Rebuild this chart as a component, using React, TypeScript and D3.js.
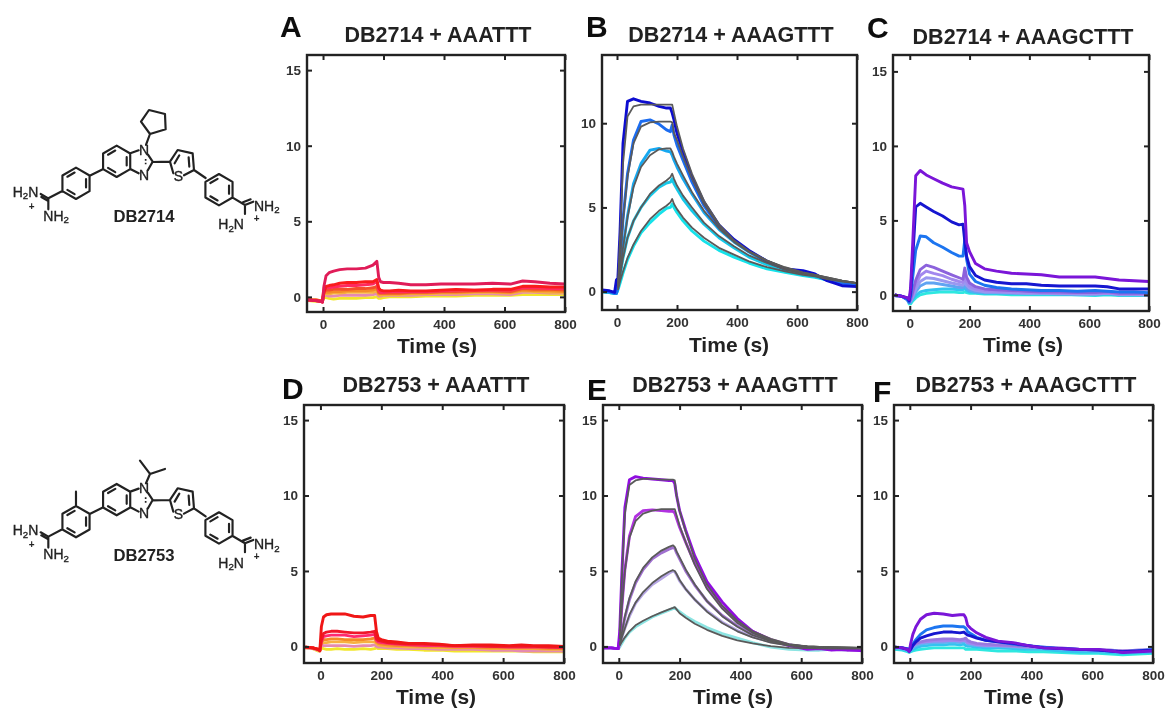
import React, { useRef, useEffect } from "react";
import * as d3 from "d3";

// sampling times (s) shared by all traces
const times = [-50, -25, -8, -2, 3, 10, 20, 35, 55, 80, 110, 140, 165, 178, 184, 190, 200, 220, 250, 290, 340, 390, 440, 500, 560, 620, 660, 700, 750, 800];

const xTicks = [0, 200, 400, 600, 800];
const yTicks = [0, 5, 10, 15];

const warmColors = ["#f2e62a", "#e58ab0", "#f7b040", "#f58a28", "#f4502a", "#ff2a60", "#fa1a1a", "#e01c58"];
const coolColors = ["#2ee8e0", "#30c4f0", "#60a4f2", "#9a98f0", "#a288ee", "#8c62dc", "#1c74f0", "#1414d0", "#7a12d8"];
const blueColors = ["#12e2ea", "#18c8e8", "#18a8f0", "#1a6cf0", "#1010d0"];
const purpleColors = ["#8ce4e2", "#b6a6e4", "#a070d0", "#b030e0", "#9010e0"];

const traceA = [
  [-.25, -.3, -.3, -.3, 0, -.05, -.1, -.15, -.1, -.1, -.1, -.05, -.05, 0, -.1, -.1, -.05, 0, 0, 0, .05, .05, .05, .1, .1, .1, .15, .15, .15, .15],
  [-.2, -.25, -.3, -.3, .2, .1, .05, .05, .1, .1, .1, .1, .15, .2, .05, .05, .1, .1, .1, .1, .15, .15, .15, .2, .2, .15, .3, .3, .25, .25],
  [-.2, -.2, -.25, -.25, .6, .2, .2, .25, .25, .3, .3, .3, .3, .4, .15, .1, .15, .15, .15, .2, .2, .25, .25, .3, .3, .25, .4, .35, .3, .3],
  [-.2, -.2, -.25, -.25, .4, .3, .3, .35, .35, .4, .4, .4, .45, .55, .2, .2, .2, .2, .2, .25, .25, .3, .3, .35, .35, .3, .45, .4, .4, .35],
  [-.2, -.2, -.25, -.3, .3, .45, .45, .5, .5, .5, .55, .55, .6, .7, .3, .25, .25, .25, .25, .3, .3, .35, .35, .4, .4, .35, .55, .5, .5, .45],
  [-.2, -.25, -.3, -.3, .3, .6, .6, .65, .7, .75, .75, .8, .85, 1, .45, .3, .3, .35, .35, .35, .35, .4, .45, .45, .45, .45, .6, .6, .55, .55],
  [-.2, -.25, -.3, -.35, .3, .7, .75, .8, .9, .95, .95, 1, 1, 1.15, .6, .45, .4, .4, .45, .4, .4, .45, .5, .45, .5, .5, .7, .7, .65, .65],
  [-.2, -.25, -.3, -.35, .7, 1.4, 1.6, 1.7, 1.8, 1.85, 1.85, 1.9, 2.1, 2.35, 1.3, 1, .95, .95, .9, .8, .8, .85, .85, .85, .9, .85, 1.05, 1, .9, .85],
];

const traceB = [
  [0, -.05, -.1, -.1, .1, .5, 1.1, 1.9, 2.7, 3.5, 4.1, 4.6, 4.95, 5, 5.2, 5, 4.7, 4.2, 3.6, 3, 2.45, 2.05, 1.7, 1.35, 1.15, .95, .85, .7, .55, .45],
  [0, -.05, -.1, -.1, .2, .9, 2, 3.2, 4.2, 5, 5.7, 6.2, 6.45, 6.5, 6.7, 6.4, 6.1, 5.5, 4.8, 4, 3.2, 2.6, 2.05, 1.6, 1.25, 1, .9, .7, .5, .45],
  [0, -.05, -.1, -.1, .2, 1.1, 2.6, 4.5, 6.4, 7.6, 8.4, 8.5, 8.35, 8.3, 8.1, 7.8, 7.4, 6.7, 5.8, 4.7, 3.7, 2.95, 2.35, 1.75, 1.35, 1.1, .95, .7, .5, .45],
  [.05, 0, -.1, -.1, .3, 1.8, 4.3, 7, 9, 10.1, 10.2, 9.95, 9.6, 9.5, 9.9, 9.3, 8.7, 7.8, 6.5, 5.1, 3.85, 3.05, 2.4, 1.8, 1.35, 1.2, 1, .7, .45, .4],
  [.1, .05, -.05, .7, .8, 3.5, 8.8, 11.3, 11.45, 11.3, 11.2, 11, 10.9, 10.9, 10.6, 10.2, 9.4, 8.3, 6.8, 5.3, 3.95, 3.1, 2.45, 1.8, 1.35, 1.25, 1.05, .65, .35, .3],
];

const fitB = [
  [null, null, null, null, .1, .6, 1.2, 2, 2.8, 3.6, 4.3, 4.8, 5.1, 5.3, 5.5, 5.2, 4.9, 4.4, 3.8, 3.2, 2.6, 2.2, 1.8, 1.45, 1.2, 1, .9, .75, .6, .5],
  [null, null, null, null, .2, .9, 2, 3.2, 4.2, 5, 5.8, 6.3, 6.6, 6.8, 7, 6.7, 6.3, 5.7, 5, 4.1, 3.3, 2.7, 2.15, 1.7, 1.3, 1.05, .95, .8, .62, .5],
  [null, null, null, null, .2, 1.1, 2.6, 4.4, 6.2, 7.4, 8.1, 8.45, 8.5, 8.5, 8.3, 8, 7.6, 6.9, 5.9, 4.8, 3.75, 2.95, 2.35, 1.8, 1.4, 1.1, 1, .82, .64, .5],
  [null, null, null, null, .3, 1.8, 4.2, 6.8, 8.8, 9.8, 10.05, 10.1, 10.1, 10.1, 10.05, 9.4, 9, 8, 6.7, 5.2, 3.9, 3, 2.4, 1.85, 1.42, 1.12, 1, .84, .65, .5],
  [null, null, null, null, .4, 3.2, 7.6, 10.4, 11, 11.1, 11.1, 11.1, 11.1, 11.1, 11.1, 10.6, 9.8, 8.5, 7, 5.4, 4, 3.05, 2.4, 1.85, 1.45, 1.15, 1, .85, .65, .5],
];

const traceC = [
  [-.05, -.1, -.3, -.6, -.6, -.4, -.2, 0, .1, .15, .2, .2, .15, .15, .2, .15, .1, .1, .05, .05, 0, 0, 0, 0, 0, -.05, 0, -.05, -.05, -.05],
  [-.05, -.1, -.3, -.5, -.5, -.3, -.05, .2, .3, .35, .4, .4, .35, .35, .45, .3, .2, .15, .1, .1, .1, .05, .05, .05, 0, 0, .05, 0, 0, 0],
  [-.05, -.1, -.3, -.5, -.4, -.2, .2, .6, .8, .8, .7, .6, .5, .5, .7, .45, .3, .2, .15, .15, .1, .1, .1, .05, .05, .05, .1, 0, 0, 0],
  [-.05, -.1, -.3, -.5, -.4, -.1, .4, .9, 1.15, 1.1, .95, .8, .7, .65, .9, .65, .45, .3, .2, .2, .15, .1, .1, .1, .05, .05, .1, .05, .05, -.05],
  [-.05, -.1, -.3, -.5, -.4, 0, .7, 1.3, 1.6, 1.45, 1.3, 1.05, .9, .85, 1.2, .9, .6, .4, .3, .25, .2, .15, .15, .1, .1, .1, .1, .05, .05, .05],
  [-.05, -.1, -.3, -.5, -.3, .2, 1, 1.7, 2, 1.85, 1.6, 1.35, 1.15, 1.05, 1.8, 1.2, .8, .55, .4, .35, .3, .25, .2, .2, .15, .15, .2, .1, .1, .1],
  [0, -.1, -.3, -.5, -.1, 1.2, 3, 3.95, 3.9, 3.5, 3.2, 2.85, 2.6, 2.6, 3.7, 2.4, 1.4, .9, .65, .5, .4, .35, .3, .3, .25, .3, .25, .2, .2, .15],
  [0, -.1, -.2, -.4, .2, 2.5, 5.9, 6.15, 5.9, 5.6, 5.3, 4.9, 4.7, 4.75, 3.6, 2.6, 1.9, 1.3, 1, .85, .75, .75, .65, .6, .6, .6, .55, .4, .4, .4],
  [0, -.1, -.2, -.3, .5, 3.5, 8, 8.35, 8.05, 7.8, 7.5, 7.25, 7.15, 7.1, 6, 3.5, 2.9, 2.1, 1.75, 1.6, 1.45, 1.4, 1.35, 1.2, 1.2, 1.2, 1.1, 1, .95, .9],
];

const traceD = [
  [-.1, -.15, -.3, -.3, -.1, -.15, -.2, -.2, -.15, -.2, -.2, -.15, -.2, -.15, -.1, -.15, -.15, -.15, -.2, -.2, -.25, -.25, -.3, -.3, -.3, -.3, -.3, -.35, -.35, -.35],
  [-.1, -.15, -.25, -.3, .1, .05, .05, .05, .05, .05, 0, .05, .05, .1, 0, -.05, -.05, -.1, -.1, -.15, -.15, -.2, -.2, -.2, -.25, -.25, -.3, -.3, -.3, -.3],
  [-.05, -.1, -.2, -.25, .4, .25, .25, .3, .3, .3, .25, .3, .3, .3, .2, .1, .05, 0, 0, -.05, -.05, -.1, -.1, -.1, -.15, -.15, -.15, -.15, -.2, -.2],
  [-.05, -.1, -.2, -.25, .3, .45, .45, .5, .5, .45, .45, .45, .5, .55, .3, .2, .15, .1, .05, .05, 0, 0, -.05, -.05, -.1, -.1, -.1, -.1, -.15, -.15],
  [-.05, -.1, -.2, -.25, .3, .65, .7, .75, .75, .75, .65, .7, .75, .8, .4, .3, .25, .2, .15, .1, .05, .05, 0, 0, 0, -.05, -.05, -.05, -.05, -.1],
  [-.05, -.1, -.2, -.25, .4, .85, .95, 1, 1, .95, .9, .9, .95, 1, .5, .4, .35, .25, .2, .15, .15, .1, .05, .05, 0, 0, 0, 0, -.05, -.05],
  [-.05, -.1, -.2, -.3, 1.3, 1.95, 2.1, 2.15, 2.15, 2.15, 2, 1.95, 2.05, 2.05, 1, .55, .45, .35, .3, .2, .2, .15, .05, .1, .1, .05, .1, .05, .05, 0],
];

const traceE = [
  [-.1, -.1, -.15, -.15, -.05, .2, .55, .95, 1.3, 1.6, 1.95, 2.2, 2.4, 2.5, 2.55, 2.45, 2.3, 2, 1.65, 1.25, .85, .55, .25, -.05, -.2, -.25, -.25, -.2, -.25, -.25],
  [-.1, -.1, -.15, -.15, .1, .6, 1.2, 2, 2.85, 3.5, 4.1, 4.5, 4.85, 5, 4.95, 4.75, 4.35, 3.8, 3.1, 2.35, 1.6, 1.05, .65, .3, .1, -.05, -.1, -.15, -.2, -.2],
  [-.1, -.1, -.15, -.15, .15, .9, 1.9, 3.1, 4.2, 5.1, 5.8, 6.2, 6.45, 6.55, 6.5, 6.2, 5.8, 5, 4.05, 3, 2.05, 1.35, .8, .4, .1, -.05, -.1, -.15, -.2, -.2],
  [-.1, -.1, -.15, -.15, .5, 2.6, 5.1, 7.3, 8.6, 9, 9.05, 9, 8.95, 8.95, 8.85, 8.5, 7.9, 6.9, 5.5, 3.95, 2.65, 1.7, 1, .45, .1, -.1, -.1, -.2, -.25, -.25],
  [-.1, -.1, -.15, -.15, 1, 4.8, 9.2, 11.05, 11.25, 11.15, 11.1, 11.05, 11, 11, 10.8, 10, 9, 7.7, 6, 4.3, 2.95, 1.85, 1, .4, .05, -.2, -.15, -.25, -.2, -.3],
];

const fitE = [
  [null, null, null, null, .05, .3, .6, 1, 1.4, 1.7, 2, 2.25, 2.45, 2.55, 2.6, 2.45, 2.2, 1.9, 1.5, 1.1, .7, .4, .2, .02, -.1, -.12, -.13, -.14, -.14, -.15],
  [null, null, null, null, .1, .6, 1.2, 2.1, 2.9, 3.6, 4.2, 4.65, 4.95, 5.05, 5, 4.8, 4.4, 3.8, 3.1, 2.3, 1.55, 1, .6, .25, .05, -.05, -.08, -.1, -.1, -.1],
  [null, null, null, null, .15, .9, 2, 3.2, 4.3, 5.2, 5.9, 6.35, 6.6, 6.7, 6.6, 6.3, 5.9, 5.1, 4.1, 3, 2, 1.3, .75, .35, .1, 0, -.03, -.05, -.07, -.1],
  [null, null, null, null, .5, 2.6, 5, 7.2, 8.3, 8.8, 9, 9.1, 9.1, 9.1, 9.1, 8.7, 8, 6.9, 5.4, 3.8, 2.5, 1.55, .9, .4, .1, 0, -.03, -.05, -.08, -.1],
  [null, null, null, null, 1, 4.6, 8.8, 10.7, 11, 11.1, 11.1, 11.05, 11.05, 11.05, 11, 10, 9, 7.6, 5.8, 4.1, 2.7, 1.7, 1, .5, .15, 0, -.03, -.05, -.08, -.1],
];

const traceF = [
  [-.2, -.25, -.35, -.4, -.35, -.3, -.25, -.2, -.15, -.1, -.1, -.1, -.1, -.1, -.2, -.2, -.2, -.2, -.25, -.3, -.3, -.35, -.35, -.4, -.45, -.45, -.5, -.55, -.5, -.45],
  [-.15, -.2, -.3, -.35, -.3, -.2, -.1, 0, .05, .1, .1, .15, .1, .15, .05, 0, 0, -.05, -.1, -.1, -.15, -.2, -.2, -.3, -.35, -.35, -.4, -.45, -.4, -.4],
  [-.1, -.15, -.25, -.3, -.25, -.1, .05, .15, .2, .25, .25, .3, .25, .3, .3, .15, .1, .05, 0, 0, -.05, -.1, -.1, -.2, -.25, -.3, -.3, -.35, -.3, -.3],
  [-.05, -.1, -.2, -.25, -.2, 0, .15, .25, .3, .35, .35, .4, .35, .4, .35, .25, .2, .1, .05, .05, 0, -.05, -.1, -.15, -.2, -.25, -.25, -.3, -.25, -.25],
  [-.05, -.1, -.15, -.2, -.15, .05, .2, .3, .4, .45, .5, .5, .45, .5, .55, .4, .3, .2, .15, .1, .05, 0, -.05, -.1, -.2, -.2, -.25, -.3, -.25, -.2],
  [-.05, -.1, -.15, -.2, -.1, .15, .45, .8, 1.1, 1.25, 1.35, 1.35, 1.3, 1.3, 1.2, 1, .85, .6, .4, .3, .15, .05, -.05, -.15, -.2, -.25, -.3, -.35, -.3, -.2],
  [-.05, -.1, -.2, -.3, -.2, .05, .3, .55, .7, .85, .95, .95, .9, .95, .85, .75, .7, .55, .4, .3, .2, .05, -.1, -.15, -.2, -.25, -.3, -.35, -.3, -.25],
  [-.05, -.1, -.2, -.35, .2, .8, 1.3, 1.8, 2.1, 2.2, 2.15, 2.05, 2.1, 2.1, 1.9, 1.4, 1.2, .9, .6, .35, .25, .05, -.1, -.15, -.2, -.2, -.3, -.4, -.35, -.3],
];

const titles = ["DB2714 + AAATTT", "DB2714 + AAAGTTT", "DB2714 + AAAGCTTT", "DB2753 + AAATTT", "DB2753 + AAAGTTT", "DB2753 + AAAGCTTT"];
const letters = ["A", "B", "C", "D", "E", "F"];

// layout of each panel
const panels = [
  { left: 307, right: 565, top: 55, bottom: 312, xMin: -53, yMin: -1, yMax: 16, titleX: 438, titleY: 42, letterX: 280, letterY: 37, labelX: 437, labelY: 353, traces: traceA, colors: warmColors, fits: null },
  { left: 602, right: 857, top: 55, bottom: 310, xMin: -50, yMin: -1.09, yMax: 14.05, titleX: 731, titleY: 42, letterX: 586, letterY: 37, labelX: 729, labelY: 352, traces: traceB, colors: blueColors, fits: fitB },
  { left: 893, right: 1149, top: 55, bottom: 311, xMin: -56, yMin: -1.08, yMax: 16.1, titleX: 1023, titleY: 44, letterX: 867, letterY: 38, labelX: 1023, labelY: 352, traces: traceC, colors: coolColors, fits: null },
  { left: 304, right: 564, top: 405, bottom: 663, xMin: -54, yMin: -1.1, yMax: 16, titleX: 436, titleY: 392, letterX: 282, letterY: 399, labelX: 436, labelY: 704, traces: traceD, colors: ["#f2e62a", "#e58ab0", "#f7b040", "#f58a28", "#ff2a70", "#f0182c", "#f01414"], fits: null },
  { left: 603, right: 862, top: 405, bottom: 663, xMin: -52, yMin: -1.1, yMax: 16, titleX: 735, titleY: 392, letterX: 587, letterY: 400, labelX: 733, labelY: 704, traces: traceE, colors: purpleColors, fits: fitE },
  { left: 894, right: 1153, top: 405, bottom: 663, xMin: -52, yMin: -1.1, yMax: 16, titleX: 1026, titleY: 392, letterX: 873, letterY: 402, labelX: 1024, labelY: 704, traces: traceF, colors: ["#2ee8e0", "#30c4f0", "#60b4f2", "#a288ee", "#9a78e0", "#1c74f0", "#1414d0", "#7a12d8"], fits: null },
];

const FONT = "Arial, 'Liberation Sans', sans-serif";

// inner bond of a ring, pulled toward the centre
const innerBond = (pts: number[][], i: number) => {
  const cx = d3.mean(pts, (p) => p[0]) as number;
  const cy = d3.mean(pts, (p) => p[1]) as number;
  const a = pts[i];
  const b = pts[(i + 1) % pts.length];
  const mx = (a[0] + b[0]) / 2;
  const my = (a[1] + b[1]) / 2;
  const f = (p: number[]) => {
    const qx = mx + (p[0] - mx) * 0.72;
    const qy = my + (p[1] - my) * 0.72;
    return `${cx + (qx - cx) * 0.74},${cy + (qy - cy) * 0.74}`;
  };
  return `M${f(a)}L${f(b)}`;
};

const hexagon = (cx: number, cy: number, r: number) =>
  d3.range(6).map((i) => [cx + r * Math.sin((i * Math.PI) / 3), cy - r * Math.cos((i * Math.PI) / 3)]);

const closed = (pts: number[][]) => "M" + pts.map((p) => p.join(",")).join("L") + "Z";

const leftRing = hexagon(228, 280, 47);
const benzoRing = hexagon(350, 214, 47);
const rightRing = hexagon(657, 299, 47);

const scaffold = [
  closed(leftRing),
  closed(benzoRing),
  closed(rightRing),
  ...[1, 3, 5].map((i) => innerBond(leftRing, i)),
  ...[1, 3, 5].map((i) => innerBond(benzoRing, i)),
  ...[1, 3, 5].map((i) => innerBond(rightRing, i)),
  "M269,257L310,237", // phenyl to benzimidazole
  "M391,190L416,181M444,194L458,215L444,240M416,250L391,237", // imidazole
  "M458,216L510,215", // to thiophene
  "M520,250L510,215L533,180L578,190L582,240L552,256", // thiophene
  "M524,220L538,196M566,202L568,230",
  "M582,240L617,264", // thiophene to phenyl
  "M698,323L735,345L760,335M729,337L752,328M735,345L735,372", // right amidine
  "M187,303L145,325L122,312M145,333L124,321M145,325L145,358", // left amidine
];

const H2N = ({ x, y }: { x: number; y: number }) => (
  <text x={x} y={y} fontSize={42} fill="#222" stroke="#222" strokeWidth={1} fontFamily={FONT}>
    H<tspan fontSize={29} dy={8}>2</tspan><tspan dy={-8}>N</tspan>
  </text>
);
const NH2 = ({ x, y }: { x: number; y: number }) => (
  <text x={x} y={y} fontSize={42} fill="#222" stroke="#222" strokeWidth={1} fontFamily={FONT}>
    NH<tspan fontSize={29} dy={8}>2</tspan>
  </text>
);

const Molecule = ({ dy, name, extra }: { dy: number; name: string; extra: string }) => (
  <g transform={`translate(0,${dy}) scale(0.3333)`}>
    <path d={[...scaffold, extra].join("")} fill="none" stroke="#222" strokeWidth={6.5} strokeLinejoin="round" strokeLinecap="round" />
    <path d="M437,207L437,224" stroke="#222" strokeWidth={5} strokeDasharray="5 6" fill="none" />
    <g fontFamily={FONT} fontSize={42} fill="#222" textAnchor="middle">
      <text x={432} y={194} stroke="#222" strokeWidth={1}>N</text>
      <text x={432} y={269} stroke="#222" strokeWidth={1}>N</text>
      <text x={535} y={272} stroke="#222" strokeWidth={1}>S</text>
      <text x={95} y={360} fontWeight="bold" fontSize={30}>+</text>
      <text x={770} y={396} fontWeight="bold" fontSize={30}>+</text>
      <text x={432} y={397} fontWeight="bold" fontSize={50}>{name}</text>
    </g>
    <H2N x={38} y={320} />
    <NH2 x={130} y={392} />
    <NH2 x={762} y={362} />
    <H2N x={655} y={418} />
  </g>
);

const App = () => {
  const chartRef = useRef<SVGGElement | null>(null);

  useEffect(() => {
    const root = d3.select(chartRef.current);
    root.selectAll("*").remove();

    panels.forEach((p, idx) => {
      const x = d3.scaleLinear().domain([p.xMin, 800]).range([p.left, p.right]);
      const y = d3.scaleLinear().domain([p.yMin, p.yMax]).range([p.bottom, p.top]);
      const g = root.append("g");

      const line = d3
        .line<number | null>()
        .defined((d) => d !== null)
        .x((_, i) => x(times[i]))
        .y((d) => y(d as number));

      // Raw sensorgrams, low response first
      g.selectAll("path.trace")
        .data(p.traces)
        .enter()
        .append("path")
        .attr("class", "trace")
        .attr("d", (d) => line(d))
        .attr("fill", "none")
        .attr("stroke", (_, i) => p.colors[i])
        .attr("stroke-width", 2.9)
        .attr("stroke-linejoin", "round");

      // Fit lines
      if (p.fits) {
        g.selectAll("path.fit")
          .data(p.fits)
          .enter()
          .append("path")
          .attr("class", "fit")
          .attr("d", (d) => line(d))
          .attr("fill", "none")
          .attr("stroke", "#5a5a5a")
          .attr("stroke-width", 1.8)
          .attr("stroke-linejoin", "round");
      }

      const shownY = yTicks.filter((t) => t < p.yMax);

      const bottom = g.append("g").attr("transform", `translate(0,${p.bottom})`)
        .call(d3.axisBottom(x).tickValues(xTicks).tickSizeInner(-5).tickSizeOuter(0).tickPadding(7));
      const left = g.append("g").attr("transform", `translate(${p.left},0)`)
        .call(d3.axisLeft(y).tickValues(shownY).tickSizeInner(-5).tickSizeOuter(0).tickPadding(6));
      const top = g.append("g").attr("transform", `translate(0,${p.top})`)
        .call(d3.axisTop(x).tickValues(xTicks).tickSizeInner(-5).tickSizeOuter(0).tickFormat(() => ""));
      const right = g.append("g").attr("transform", `translate(${p.right},0)`)
        .call(d3.axisRight(y).tickValues(shownY).tickSizeInner(-5).tickSizeOuter(0).tickFormat(() => ""));

      [bottom, left, top, right].forEach((a) => {
        a.select(".domain").remove();
        a.selectAll("line").attr("stroke", "#222").attr("stroke-width", 2);
        a.selectAll("text")
          .attr("fill", "#333")
          .style("font-family", FONT)
          .style("font-size", "13.5px")
          .style("font-weight", "bold");
      });

      g.append("rect")
        .attr("x", p.left)
        .attr("y", p.top)
        .attr("width", p.right - p.left)
        .attr("height", p.bottom - p.top)
        .attr("fill", "none")
        .attr("stroke", "#222")
        .attr("stroke-width", 2.4);

      g.append("text")
        .attr("x", p.titleX)
        .attr("y", p.titleY)
        .attr("text-anchor", "middle")
        .style("font-family", FONT)
        .style("font-size", "21.5px")
        .style("font-weight", "bold")
        .attr("fill", "#222")
        .text(titles[idx]);

      g.append("text")
        .attr("x", p.letterX)
        .attr("y", p.letterY)
        .style("font-family", FONT)
        .style("font-size", "30px")
        .style("font-weight", "bold")
        .attr("fill", "#111")
        .text(letters[idx]);

      g.append("text")
        .attr("x", p.labelX)
        .attr("y", p.labelY)
        .attr("text-anchor", "middle")
        .style("font-family", FONT)
        .style("font-size", "21px")
        .style("font-weight", "bold")
        .attr("fill", "#222")
        .text("Time (s)");
    });
  }, []);

  return (
    <svg width={1165} height={710} style={{ position: "absolute", left: 0, top: 0, background: "#fff" }}>
      <defs>
        <filter id="soft" x="0" y="0" width="100%" height="100%">
          <feGaussianBlur stdDeviation="0.45" />
        </filter>
      </defs>
      <g filter="url(#soft)">
        <rect width={1165} height={710} fill="#fff" />
        <Molecule dy={90} name="DB2714" extra="M450,132L423,95L447,60L495,72L497,118L450,132M450,132L438,165" />
        <Molecule dy={428.3} name="DB2753" extra="M228,233L228,190M438,165L450,137L420,97M450,137L495,122" />
        <g ref={chartRef} />
      </g>
    </svg>
  );
};

export default App;
